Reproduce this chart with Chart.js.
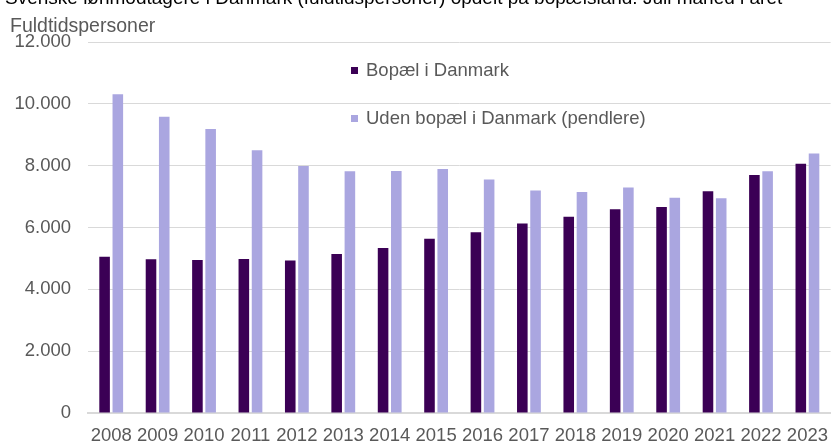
<!DOCTYPE html>
<html lang="da">
<head>
<meta charset="utf-8">
<script src="https://cdn.jsdelivr.net/npm/chart.js@4"></script>
<style>
  html, body { margin: 0; padding: 0; background: #fff; }
  #wrap { width: 840px; height: 442px; position: relative; }
</style>
</head>
<body>
<div id="wrap"><canvas id="svenskChart"></canvas></div>
<script>
// Data
const titel = "Svenske lønmodtagere i Danmark (fuldtidspersoner) opdelt på bopælsland. Juli måned i året";
const enhed = "Fuldtidspersoner";
const aar = ["2008", "2009", "2010", "2011", "2012", "2013", "2014", "2015",
             "2016", "2017", "2018", "2019", "2020", "2021", "2022", "2023"];
const bopaelDK = [5050, 4970, 4950, 4980, 4930, 5140, 5340, 5640,
                  5850, 6130, 6350, 6590, 6660, 7170, 7700, 8060];
const pendlere = [10310, 9580, 9190, 8500, 7990, 7820, 7830, 7890,
                  7550, 7200, 7150, 7290, 6960, 6950, 7820, 8390];
const serieNavne = ["Bopæl i Danmark", "Uden bopæl i Danmark (pendlere)"];

const FONT = "'Liberation Sans', Arial, sans-serif";
const GRAA = "#595959";

// tusindtalsseparator med punktum
function talFormat(v) {
  return String(v).replace(/\B(?=(\d{3})+(?!\d))/g, ".");
}

// Titel (delvist skåret af), enhed og legende tegnes selv
const tekstPlugin = {
  id: "tekster",
  afterDraw(chart) {
    const c = chart.ctx;
    c.save();
    c.textBaseline = "alphabetic";
    c.textAlign = "left";
    c.font = "19px " + FONT;
    c.fillStyle = "#000";
    c.fillText(titel, 5, 4);
    c.font = "19.5px " + FONT;
    c.fillStyle = GRAA;
    c.fillText(enhed, 10, 32);

    c.font = "18.5px " + FONT;
    const pos = [[351, 67], [351, 115]];
    chart.data.datasets.forEach((ds, i) => {
      const [x, y] = pos[i];
      c.fillStyle = ds.backgroundColor;
      c.fillRect(x, y, 7, 7);
      c.fillStyle = GRAA;
      c.textBaseline = "middle";
      c.fillText(ds.label, x + 15, y + 4);
    });
    c.restore();
  }
};

const ctx = document.getElementById("svenskChart");
const chart = new Chart(ctx, {
  type: "bar",
  data: {
    labels: aar,
    datasets: [
      { label: serieNavne[0], data: bopaelDK, backgroundColor: "#3b0055" },
      { label: serieNavne[1], data: pendlere, backgroundColor: "#aaa6e0" }
    ]
  },
  options: {
    responsive: true,
    maintainAspectRatio: false,
    animation: false,
    categoryPercentage: 0.57,
    barPercentage: 0.8,
    layout: { padding: { top: 42, right: 0, left: 0, bottom: 0 } },
    plugins: {
      legend: { display: false },
      tooltip: { enabled: false }
    },
    scales: {
      x: {
        grid: { display: false, drawTicks: false },
        border: { color: "#d9d9d9", width: 2 },
        ticks: {
          color: GRAA,
          font: { family: FONT, size: 18.5 },
          padding: 12,
          maxRotation: 0,
          autoSkip: false
        },
        afterFit(scale) { scale.height = 29; }
      },
      y: {
        min: 0,
        max: 12000,
        grid: { color: "#d9d9d9", lineWidth: 1, drawTicks: false },
        border: { display: false },
        ticks: {
          stepSize: 2000,
          color: GRAA,
          font: { family: FONT, size: 18.5 },
          padding: 17,
          callback: (v) => talFormat(v)
        },
        afterFit(scale) { scale.width = 88; }
      }
    }
  },
  plugins: [tekstPlugin]
});
</script>
</body>
</html>
